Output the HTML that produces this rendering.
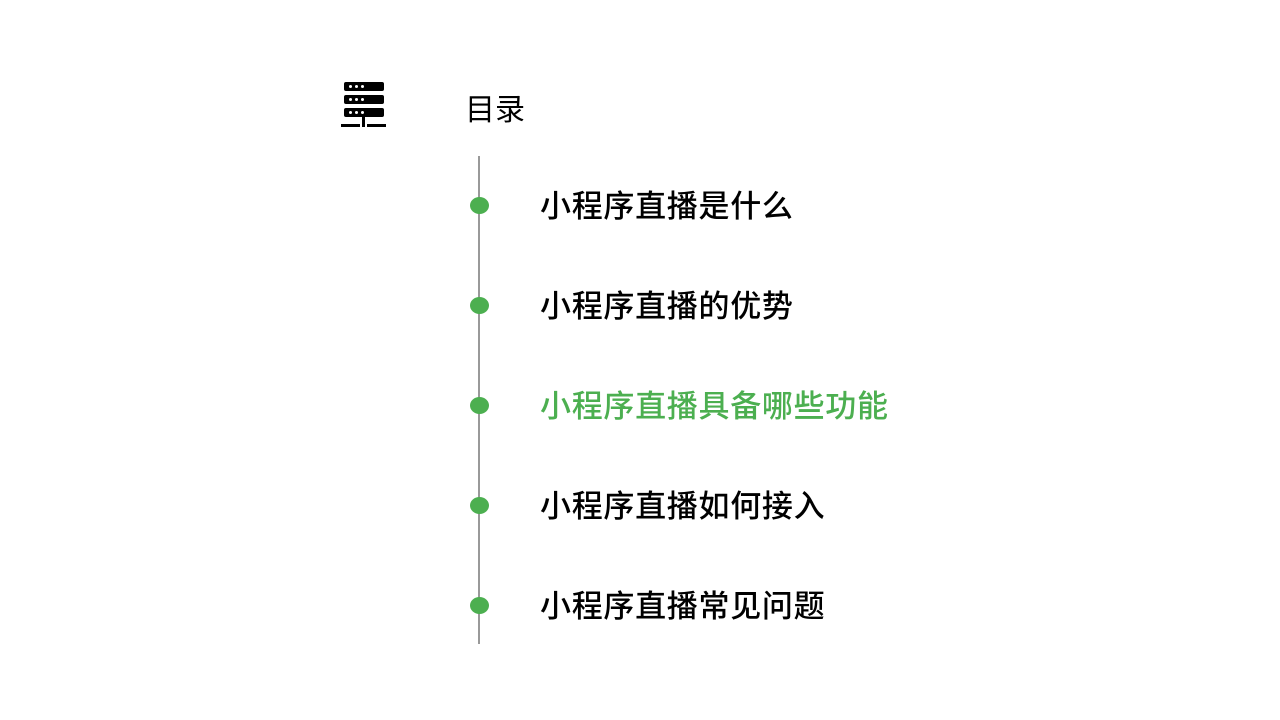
<!DOCTYPE html>
<html><head><meta charset="utf-8"><style>
body{margin:0;width:1280px;height:720px;background:#fff;position:relative;overflow:hidden;font-family:"Liberation Sans","Noto Sans CJK SC",sans-serif}
.t{position:absolute;left:540px;font-size:31px;font-weight:500;letter-spacing:0.7px;line-height:40px;color:#000;white-space:nowrap}
.d{position:absolute;left:470px;width:19px;height:17px;border-radius:50%;background:#4caf50}
.bar{position:absolute;left:344px;width:40px;height:9px;background:#000;border-radius:2px}
.bar i{position:absolute;top:3px;width:3px;height:3px;background:#fff;border-radius:50%}
</style></head><body>
<div class="bar" style="top:82px"><i style="left:5px"></i><i style="left:11px"></i><i style="left:17px"></i></div>
<div class="bar" style="top:95px"><i style="left:5px"></i><i style="left:11px"></i><i style="left:17px"></i></div>
<div class="bar" style="top:108px"><i style="left:5px"></i><i style="left:11px"></i><i style="left:17px"></i></div>
<div style="position:absolute;left:362px;top:117px;width:3px;height:10px;background:#000"></div>
<div style="position:absolute;left:341px;top:124px;width:19px;height:3px;background:#000"></div>
<div style="position:absolute;left:367px;top:124px;width:19px;height:3px;background:#000"></div>
<div style="position:absolute;left:465px;top:91px;font-size:30px;font-weight:400;letter-spacing:0px;line-height:40px">目录</div>
<div style="position:absolute;left:478px;top:156px;width:1.5px;height:488px;background:#999"></div>
<div class="d" style="top:197px"></div><div class="t" style="top:187px">小程序直播是什么</div>
<div class="d" style="top:297px"></div><div class="t" style="top:287px">小程序直播的优势</div>
<div class="d" style="top:397px"></div><div class="t" style="top:387px;color:#4caf50">小程序直播具备哪些功能</div>
<div class="d" style="top:497px"></div><div class="t" style="top:487px">小程序直播如何接入</div>
<div class="d" style="top:597px"></div><div class="t" style="top:587px">小程序直播常见问题</div>
</body></html>
